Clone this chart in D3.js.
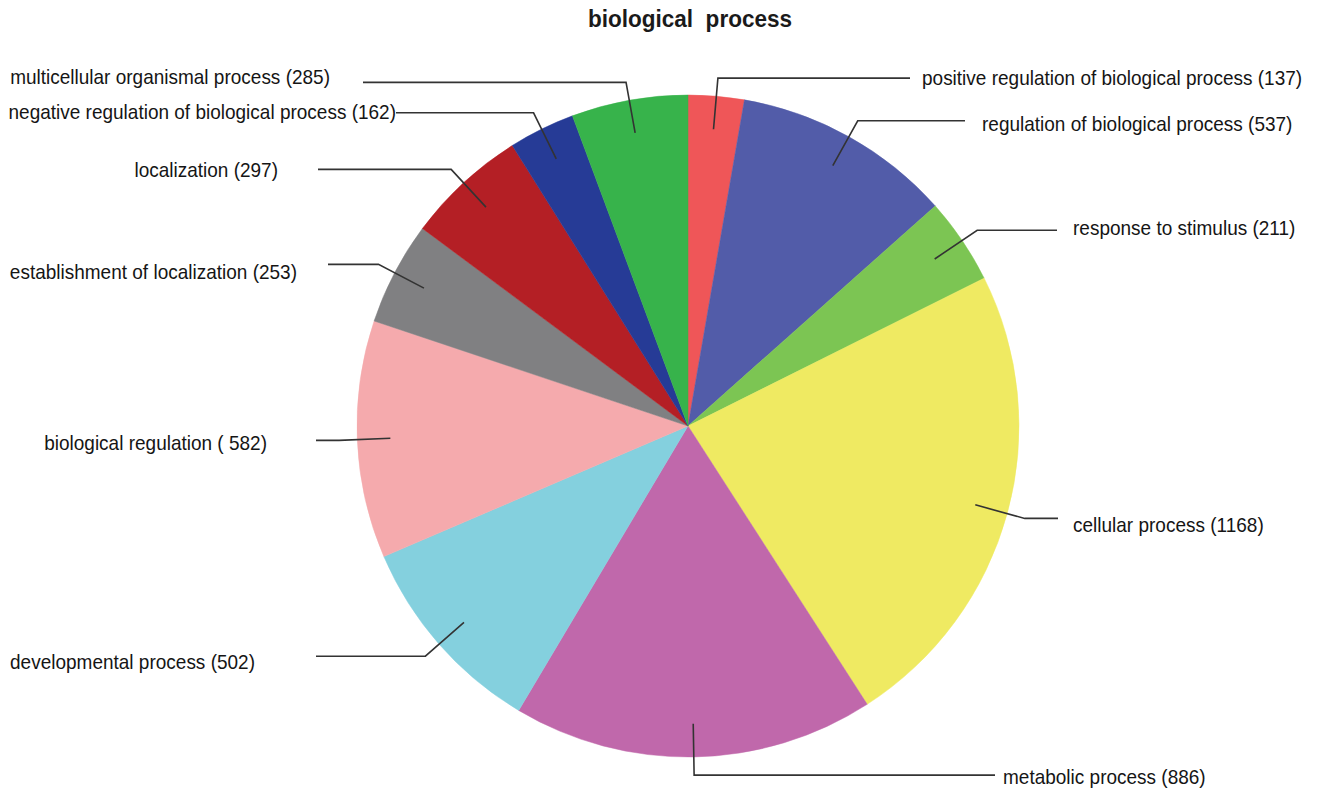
<!DOCTYPE html>
<html>
<head>
<meta charset="utf-8">
<script src="https://cdn.jsdelivr.net/npm/d3@7"></script>
<style>
  html, body { margin: 0; padding: 0; background: #fff; }
  svg { display: block; }
</style>
</head>
<body>
<svg id="chart" width="1319" height="789"></svg>
<script>
// GO terms (biological process) and their gene counts, clockwise from 12 o'clock
const categories = [
  "positive regulation of biological process",
  "regulation of biological process",
  "response to stimulus",
  "cellular process",
  "metabolic process",
  "developmental process",
  "biological regulation",
  "establishment of localization",
  "localization",
  "negative regulation of biological process",
  "multicellular organismal process"
];
const counts = [137, 537, 211, 1168, 886, 502, 582, 253, 297, 162, 285];
const labelTexts = [
  "positive regulation of biological process (137)",
  "regulation of biological process (537)",
  "response to stimulus (211)",
  "cellular process (1168)",
  "metabolic process (886)",
  "developmental process (502)",
  "biological regulation ( 582)",
  "establishment of localization (253)",
  "localization (297)",
  "negative regulation of biological process (162)",
  "multicellular organismal process (285)"
];
const colors = [
  "#ef5658", "#525ca9", "#7cc553", "#efea62", "#c068ab", "#84d0de",
  "#f5aaad", "#808082", "#b41f25", "#263b96", "#37b34b"
];

// Label placement: end of the horizontal leader, text anchor x, vertical nudge
const leaderEndX = [910, 965, 1057, 1058, 995, 316, 316, 328, 318, 396, 363];
const labelX     = [922, 982, 1073, 1073, 1003, 255, 267, 297, 278, 396, 330];
const labelDy    = [0, 3, -2, 6, 2, 6, 2, 7, 0, -1, -6];

const cx = 688, cy = 426, R = 331;

const svg = d3.select("#chart");

svg.append("text")
  .attr("x", 690).attr("y", 27)
  .attr("text-anchor", "middle")
  .attr("font-family", "Liberation Sans, Arial, sans-serif")
  .attr("font-weight", "bold")
  .attr("font-size", 23)
  .attr("fill", "#1a1a1a")
  .attr("transform", "translate(690,0) scale(0.98,1) translate(-690,0)")
  .style("white-space", "pre")
  .text("biological  process");

const data = categories.map((c, i) => ({
  name: c, value: counts[i], label: labelTexts[i], color: colors[i],
  endX: leaderEndX[i], tx: labelX[i], dy: labelDy[i]
}));

const pie = d3.pie().sort(null).value(d => d.value);
const arcs = pie(data);
const arc = d3.arc().innerRadius(0).outerRadius(R);

const g = svg.append("g").attr("transform", `translate(${cx},${cy})`);

g.selectAll("path.slice")
  .data(arcs)
  .join("path")
  .attr("class", "slice")
  .attr("d", arc)
  .attr("fill", d => d.data.color)
  .attr("stroke", d => d.data.color)
  .attr("stroke-width", 0.5);

// leader lines: from inside the slice out to an elbow, then horizontal
const polar = (a, r) => [r * Math.sin(a), -r * Math.cos(a)];
const innerR = R * 0.9, elbowR = R * 1.055;

arcs.forEach(d => {
  const mid = (d.startAngle + d.endAngle) / 2;
  const p0 = polar(mid, innerR);
  const p1 = polar(mid, elbowR);
  const p2 = [d.data.endX - cx, p1[1]];
  g.append("path")
    .attr("d", d3.line()([p0, p1, p2]))
    .attr("fill", "none")
    .attr("stroke", "#333")
    .attr("stroke-width", 1.6);
  const right = Math.sin(mid) > 0;
  const tx = d.data.tx - cx, ty = p1[1] + d.data.dy;
  g.append("text")
    .attr("transform", `translate(${tx},${ty}) scale(0.95,1)`)
    .attr("dominant-baseline", "central")
    .attr("text-anchor", right ? "start" : "end")
    .attr("font-family", "Liberation Sans, Arial, sans-serif")
    .attr("font-size", 20)
    .attr("fill", "#151515")
    .text(d.data.label);
});
</script>
</body>
</html>
